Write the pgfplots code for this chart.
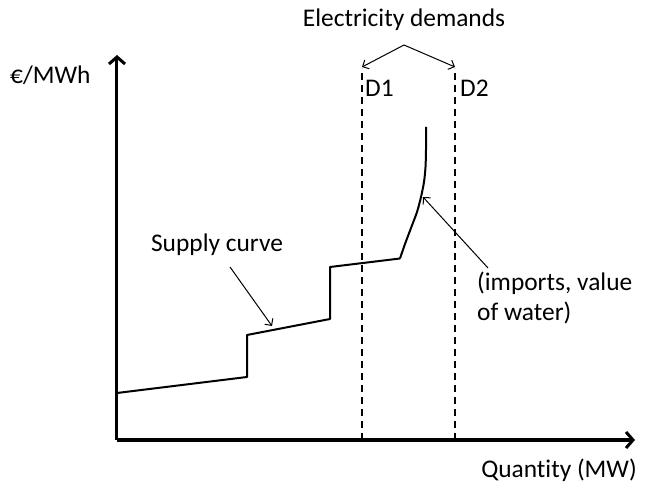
\documentclass[border=0pt]{standalone}
\usepackage{pgfplots}
\pgfplotsset{compat=1.18}
\usetikzlibrary{arrows.meta}
\usepackage{fontspec}
\setmainfont[Ligatures=NoCommon]{Carlito}

\begin{document}
\begin{tikzpicture}
\begin{axis}[
  at={(0,0)},anchor=origin,
  scale only axis,width=518bp,height=385bp,
  xmin=0,xmax=518,ymin=0,ymax=385,
  axis x line=bottom,axis y line=left,
  axis line style={line width=3bp,-{Straight Barb[length=7bp,width=16bp,line width=3bp]}},
  xtick=\empty,ytick=\empty,
  clip=false,
  font=\fontsize{25.5}{30}\selectfont
]
% supply curve (steps)
\addplot[black,line width=2bp,no marks,line join=round] coordinates {
  (0,47) (130,63) (130,105) (213,121) (213,173) (283,181.5)};
% steep part (imports, water)
\addplot[black,line width=2bp,no marks,smooth,tension=0.5] coordinates {
  (283,181.5) (288,196) (294,212) (300,228) (304,243) (307,258) (308.5,273) (309,290) (309,313)};
% demand levels
\addplot[black,line width=1.6bp,dash pattern=on 7bp off 5bp,no marks] coordinates {(245,0) (245,372)};
\addplot[black,line width=1.6bp,dash pattern=on 7bp off 5bp,no marks] coordinates {(338,0) (338,372)};

% annotations
\draw[line width=1bp,-{Straight Barb[length=5bp,width=10bp]}] (axis cs:287,395) -- (axis cs:245,373);
\draw[line width=1bp,-{Straight Barb[length=5bp,width=10bp]}] (axis cs:287,395) -- (axis cs:338,373);
\draw[line width=1bp,-{Straight Barb[length=5bp,width=10bp]}] (axis cs:113,173) -- (axis cs:155,114);
\draw[line width=1bp,-{Straight Barb[length=5bp,width=10bp]}] (axis cs:371,172) -- (axis cs:306,243);

\node at (axis cs:287,420) {Electricity demands};
\node[anchor=west,inner sep=0pt] at (axis cs:-107,365) {€/MWh};
\node[anchor=west,inner sep=0pt] at (axis cs:248,352) {D1};
\node[anchor=west,inner sep=0pt] at (axis cs:343,352) {D2};
\node at (axis cs:100,195) {Supply curve};
\node[anchor=west,align=left,inner sep=0pt] at (axis cs:360,142) {(imports, value\\of water)};
\node[anchor=east,inner sep=0pt] at (axis cs:520,-30) {Quantity (MW)};
\end{axis}
\path (-117bp,-44bp) rectangle (529bp,440bp);
\end{tikzpicture}
\end{document}
